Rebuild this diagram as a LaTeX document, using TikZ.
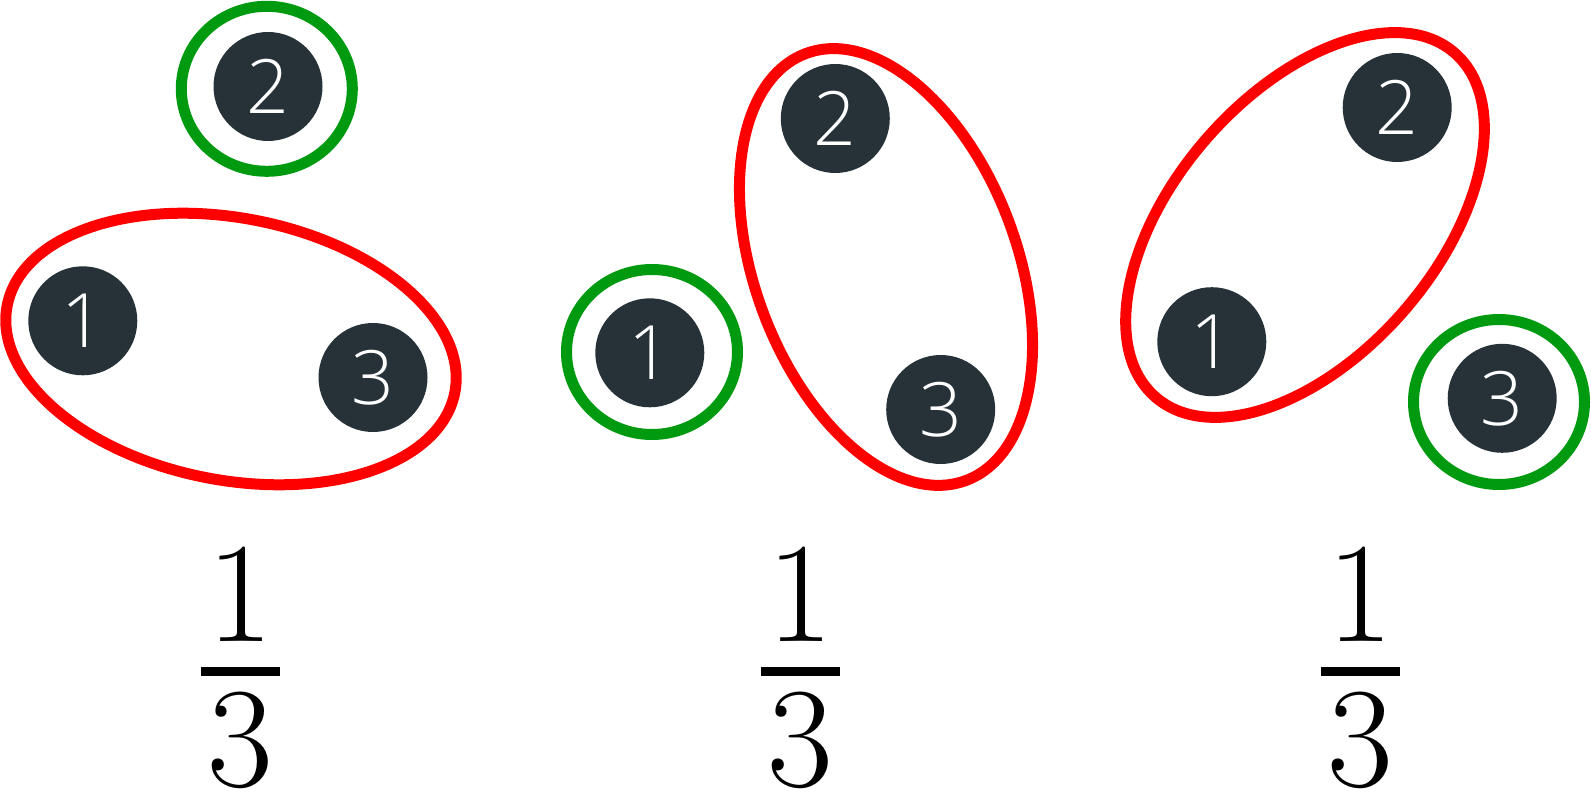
\documentclass[tikz,border=0pt]{standalone}
\usepackage{fontspec}
\IfFontExistsTF{OpenSans-Light}{\newfontfamily\digitfont{OpenSans-Light}}{%
 \IfFontExistsTF{Fira Sans Light}{\newfontfamily\digitfont{Fira Sans Light}}{%
  \IfFontExistsTF{DejaVu Sans ExtraLight}{\newfontfamily\digitfont{DejaVu Sans ExtraLight}}{%
   \newfontfamily\digitfont{Open Sans}}}}
\definecolor{nodefill}{HTML}{263238}
\definecolor{grpgreen}{RGB}{0,154,16}
\definecolor{grpred}{RGB}{255,0,0}
\begin{document}
\begin{tikzpicture}[x=1pt,y=-1pt,
  ball/.style={circle, fill=nodefill, inner sep=0pt, minimum size=109pt,
    text=white, font=\digitfont\fontsize{75}{75}\selectfont},
  single/.style={draw=grpgreen, line width=11pt},
  pair/.style={draw=grpred, line width=11pt},
  fracdigit/.style={inner sep=0pt, anchor=base, font=\fontsize{143}{143}\selectfont},
  fracbar/.style={line width=8.3pt}
]
\useasboundingbox (0,0) rectangle (1591,794);

% ---- Panel A
\node[ball] (a1) at (82.8,320.8) {1};
\node[ball] (a2) at (268,86.5) {2};
\node[ball] (a3) at (373,377.5) {3};
\coordinate (ga) at (266.8,88.8);
\coordinate (ra) at (231,349);
\draw[single] (ga) ellipse [x radius=85.5, y radius=82.5];
\draw[pair, rotate around={-11:(ra)}] (ra) ellipse [x radius=228, y radius=131];

% ---- Panel B
\node[ball] (b1) at (649.8,352.8) {1};
\node[ball] (b2) at (835.3,118.5) {2};
\node[ball] (b3) at (940.7,409.5) {3};
\coordinate (gb) at (652,352);
\coordinate (rb) at (886,267);
\draw[single] (gb) ellipse [x radius=85.5, y radius=82.5];
\draw[pair, rotate around={-69.4:(rb)}] (rb) ellipse [x radius=228, y radius=131];

% ---- Panel C
\node[ball] (c1) at (1211.8,341.7) {1};
\node[ball] (c2) at (1397.2,107.5) {2};
\node[ball] (c3) at (1502.2,398.3) {3};
\coordinate (gc) at (1499,402);
\coordinate (rc) at (1305,225);
\draw[single] (gc) ellipse [x radius=85.5, y radius=82.5];
\draw[pair, rotate around={49:(rc)}] (rc) ellipse [x radius=228, y radius=131];

% ---- Fractions
\foreach \nm/\cx in {fa/240.3, fb/800.3, fc/1360.3}{
  \node[fracdigit] (\nm num) at (\cx,641.7) {1};
  \node[fracdigit] (\nm den) at (\cx,786) {3};
  \coordinate (\nm L) at (\cx-39.7,671.5);
  \coordinate (\nm R) at (\cx+39.7,671.5);
  \draw[fracbar] (\nm L) -- (\nm R);
}
\end{tikzpicture}
\end{document}
